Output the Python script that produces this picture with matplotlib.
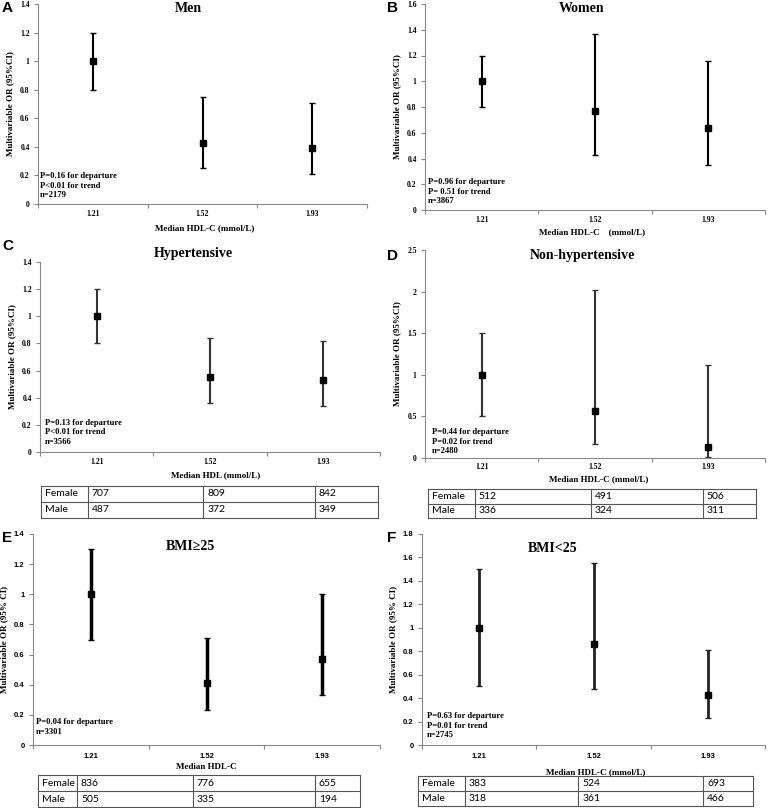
import matplotlib.pyplot as plt
import numpy as np

W, H = 769, 808

hdl_labels = ['1.21', '1.52', '1.93']

# odds ratios and 95% CI
men_or = [1.00, 0.43, 0.39]
men_lo = [0.80, 0.25, 0.21]
men_hi = [1.20, 0.75, 0.71]

women_or = [1.00, 0.77, 0.64]
women_lo = [0.80, 0.43, 0.35]
women_hi = [1.20, 1.37, 1.16]

hyp_or = [1.00, 0.55, 0.53]
hyp_lo = [0.80, 0.36, 0.34]
hyp_hi = [1.20, 0.84, 0.82]

nonhyp_or = [1.00, 0.57, 0.13]
nonhyp_lo = [0.50, 0.17, 0.01]
nonhyp_hi = [1.50, 2.02, 1.12]

bmi_hi_or = [1.00, 0.41, 0.57]
bmi_hi_lo = [0.70, 0.23, 0.33]
bmi_hi_hi = [1.30, 0.71, 1.00]

bmi_lo_or = [1.00, 0.86, 0.43]
bmi_lo_lo = [0.50, 0.48, 0.23]
bmi_lo_hi = [1.50, 1.55, 0.81]

# counts per tertile
hyp_female = [707, 809, 842]
hyp_male = [487, 372, 349]
nonhyp_female = [512, 491, 506]
nonhyp_male = [336, 324, 311]
bmi_hi_female = [836, 776, 655]
bmi_hi_male = [505, 335, 194]
bmi_lo_female = [383, 524, 693]
bmi_lo_male = [318, 361, 466]

SERIF = 'Liberation Serif'
SANS = 'Liberation Sans'

fig = plt.figure(figsize=(W / 100, H / 100), dpi=100)


def px(l, t, r, b):
    return [l / W, 1 - b / H, (r - l) / W, (b - t) / H]


def panel(box, orv, lo, hi, ymax, ystep, title, title_xy, letter, letter_xy,
          xlabel, xlabel_xy, ylabel, notes, notes_xy, lw=1.5, ms=4,
          color='black', tick_font=SERIF, xpad=4.5):
    ax = fig.add_axes(px(*box))
    x = np.arange(3) + 0.5
    orv = np.array(orv)
    yerr = [orv - np.array(lo), np.array(hi) - orv]
    ax.errorbar(x, orv, yerr=yerr, fmt='s', color=color, ecolor=color,
                elinewidth=lw, capsize=2.2, capthick=1.0, ms=ms,
                mfc='black', mec='black', clip_on=False)
    ax.set_xlim(0, 3)
    ax.set_ylim(0, ymax)
    yt = np.round(np.arange(0, ymax + 1e-9, ystep), 2)
    ax.set_yticks(yt)
    ax.set_yticklabels(['%g' % v for v in yt], fontfamily=tick_font,
                       fontweight='bold', fontsize=5.5)
    ax.set_xticks([0, 1, 2, 3])
    ax.set_xticklabels([])
    ax.set_xticks(x, minor=True)
    ax.set_xticklabels(hdl_labels, minor=True, fontfamily=tick_font,
                       fontweight='bold', fontsize=5.5)
    ax.tick_params(axis='x', which='minor', length=0, pad=xpad)
    ax.tick_params(axis='x', which='major', length=3, color='#888888')
    ax.tick_params(axis='y', length=3, color='#888888', pad=3)
    for s in ['top', 'right']:
        ax.spines[s].set_visible(False)
    for s in ['left', 'bottom']:
        ax.spines[s].set_color('#888888')
        ax.spines[s].set_linewidth(0.8)
    ax.set_ylabel(ylabel, fontfamily=SERIF, fontweight='bold', fontsize=6.5,
                  labelpad=4)
    fig.text(title_xy[0] / W, 1 - title_xy[1] / H, title, fontfamily=SERIF,
             fontweight='bold', fontsize=10, ha='center', va='center')
    fig.text(letter_xy[0] / W, 1 - letter_xy[1] / H, letter, fontfamily=SANS,
             fontweight='bold', fontsize=11, ha='left', va='center')
    fig.text(xlabel_xy[0] / W, 1 - xlabel_xy[1] / H, xlabel, fontfamily=SERIF,
             fontweight='bold', fontsize=6.5, ha='center', va='center')
    for i, line in enumerate(notes):
        fig.text(notes_xy[0] / W, 1 - (notes_xy[1] + i * 9.5) / H, line,
                 fontfamily=SERIF, fontweight='bold', fontsize=6.2,
                 ha='left', va='center')
    return ax


def table(box, cols, female, male):
    ax = fig.add_axes(px(*box))
    ax.set_xlim(0, 1)
    ax.set_ylim(0, 2)
    ax.axis('off')
    for c in cols:
        ax.plot([c, c], [0, 2], color='#555555', lw=0.8, clip_on=False)
    for r in [0, 1, 2]:
        ax.plot([0, 1], [r, r], color='#555555', lw=0.8, clip_on=False)
    rows = [('Female', female), ('Male', male)]
    pad = 4 / (box[2] - box[0])
    for i, (name, vals) in enumerate(rows):
        yc = 1.5 - i
        ax.text(cols[0] + pad, yc, name, fontfamily='Lato', fontsize=7.5,
                ha='left', va='center')
        for j, v in enumerate(vals):
            ax.text(cols[j + 1] + pad, yc, str(v), fontfamily='Lato',
                    fontsize=7.5, ha='left', va='center')


panel((38, 4, 367, 204), men_or, men_lo, men_hi, 1.4, 0.2, 'Men', (188, 8),
      'A', (2, 8), 'Median HDL-C (mmol/L)', (205, 228),
      'Multivariable OR (95%CI)',
      ['P=0.16 for departure', 'P<0.01 for trend', 'n=2179'], (40, 176))

panel((425, 4, 765, 210), women_or, women_lo, women_hi, 1.6, 0.2, 'Women',
      (582, 8), 'B', (387, 8), 'Median HDL-C    (mmol/L)', (592, 232),
      'Multivariable OR (95%CI)',
      ['P=0.96 for departure', 'P= 0.51 for trend', 'n=3867'], (428, 182))

panel((40, 262, 380, 452), hyp_or, hyp_lo, hyp_hi, 1.4, 0.2, 'Hypertensive',
      (193, 253), 'C', (2, 246), 'Median HDL (mmol/L)', (216, 475),
      'Multivariable OR (95%CI)',
      ['P=0.13 for departure', 'P<0.01 for trend', 'n=3566'], (45, 423),
      color='#333333')
table((41, 486, 378, 518), [0, 0.139, 0.481, 0.813, 1], hyp_female, hyp_male)

panel((425, 250, 765, 458), nonhyp_or, nonhyp_lo, nonhyp_hi, 2.5, 0.5,
      'Non-hypertensive', (582, 255), 'D', (387, 256),
      'Median HDL-C (mmol/L)', (599, 479), 'Multivariable OR (95%CI)',
      ['P=0.44 for departure', 'P=0.02 for trend', 'n=2480'], (432, 432),
      color='#333333', xpad=3.5)
table((428, 489, 756, 518), [0, 0.143, 0.497, 0.838, 1], nonhyp_female,
      nonhyp_male)

panel((33, 534, 380, 745), bmi_hi_or, bmi_hi_lo, bmi_hi_hi, 1.4, 0.2,
      'BMI\u226525', (190, 547), 'E', (2, 538), 'Median HDL-C', (206, 767),
      'Multivariable OR (95% CI)',
      ['P=0.04 for departure', 'n=3301'], (36, 722), lw=2.5, ms=5,
      tick_font=SANS, xpad=6)
table((38, 775, 360, 807), [0, 0.121, 0.481, 0.860, 1], bmi_hi_female,
      bmi_hi_male)

panel((422, 534, 765, 745), bmi_lo_or, bmi_lo_lo, bmi_lo_hi, 1.8, 0.2,
      'BMI<25', (553, 548), 'F', (387, 538), 'Median HDL-C (mmol/L)',
      (596, 772), 'Multivariable OR (95% CI)',
      ['P=0.63 for departure', 'P=0.01 for trend', 'n=2745'], (427, 716),
      lw=2.0, ms=4.5, color='#222222', tick_font=SANS, xpad=6)
table((418, 776, 753, 806), [0, 0.140, 0.478, 0.851, 1], bmi_lo_female,
      bmi_lo_male)

fig.savefig('out.png', dpi=100)
